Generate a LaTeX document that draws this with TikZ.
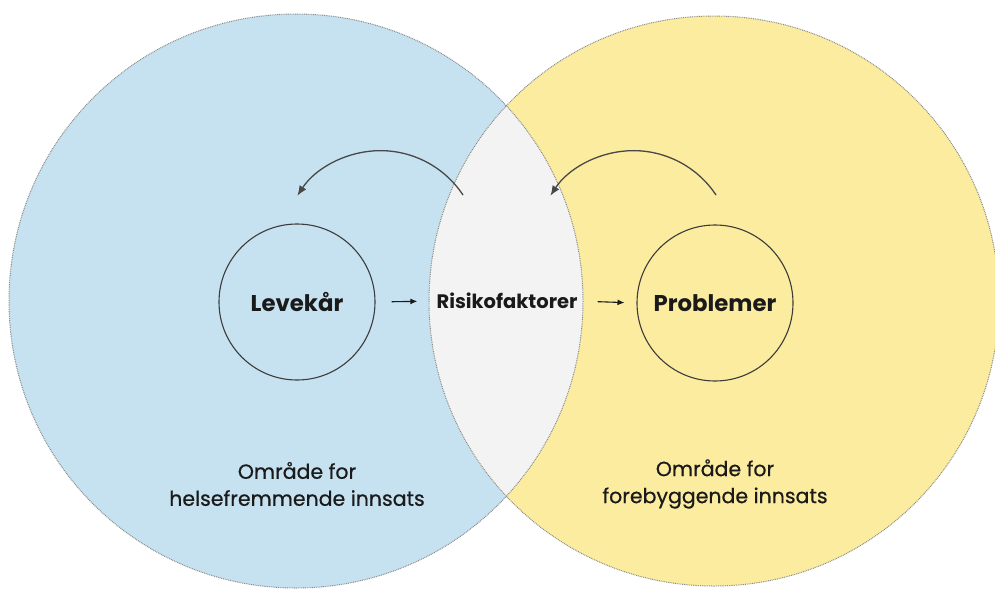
\documentclass[tikz,border=0pt]{standalone}
\usepackage{fontspec}
\setmainfont{Poppins}
\newfontfamily\areafont{Poppins}[FakeBold=0.6]
\usetikzlibrary{arrows.meta}
\definecolor{bluefill}{HTML}{C6E2F0}
\definecolor{yellowfill}{HTML}{FCEC9F}
\definecolor{lensfill}{HTML}{F3F3F4}
\definecolor{outl}{HTML}{8A8A8A}
\definecolor{ink}{HTML}{1A1A1A}
\tikzset{
  bigout/.style={draw=outl, line width=1pt, dash pattern=on 0.9pt off 0.9pt},
  smallcirc/.style={circle, draw=ink!85, line width=1.1pt, minimum size=156pt, inner sep=0pt},
  bigtxt/.style={font=\fontsize{22.8}{26}\selectfont\bfseries, text=ink},
  midtxt/.style={font=\fontsize{19.5}{22}\selectfont\bfseries, text=ink, inner sep=0pt},
  areatxt/.style={font=\areafont\fontsize{20.5}{27}\selectfont, text=ink, align=center},
  arr/.style={-{Latex[length=7pt,width=6pt]}, line width=1.1pt, draw=ink},
  curvarr/.style={-{Latex[length=10pt,width=8pt]}, line width=1.3pt, draw=ink!80},
}
\begin{document}
\begin{tikzpicture}[x=1pt,y=-1pt]
\useasboundingbox (0,0) rectangle (995,589);
\fill[white] (0,0) rectangle (995,589);
% big circles
\fill[bluefill] (296,301) circle[radius=287];
\fill[yellowfill] (714,301) circle[radius=285];
\begin{scope}
  \clip (296,301) circle[radius=287];
  \fill[lensfill] (714,301) circle[radius=285];
\end{scope}
\draw[bigout] (296,301) circle[radius=287];
\draw[bigout] (714,301) circle[radius=285];
% small circles
\node[smallcirc] (levc) at (297,302) {};
\node[smallcirc] (probc) at (715,303) {};
\node[bigtxt] (lev) at (levc.center) {Levekår};
\node[bigtxt] (prob) at (probc.center) {Problemer};
\node[midtxt] (risk) at (507,301) {Risikofaktorer};
% straight arrows
\draw[arr, shorten <=16pt, shorten >=19pt] (levc.east) -- (risk.west);
\draw[arr, shorten <=20pt, shorten >=12pt] (risk.east) -- (probc.west);
% curved arrows
\coordinate (la1) at (463,195);
\coordinate (ra1) at (716,195);
\draw[curvarr] (la1) arc[start angle=-33.5, end angle=-147, radius=99];
\draw[curvarr] (ra1) arc[start angle=-33.5, end angle=-147, radius=99];
% area labels
\node[areatxt] (lefta) at (297,484) {Område for\\helsefremmende innsats};
\node[areatxt] (righta) at (715,484) {Område for\\forebyggende innsats};
\end{tikzpicture}
\end{document}
